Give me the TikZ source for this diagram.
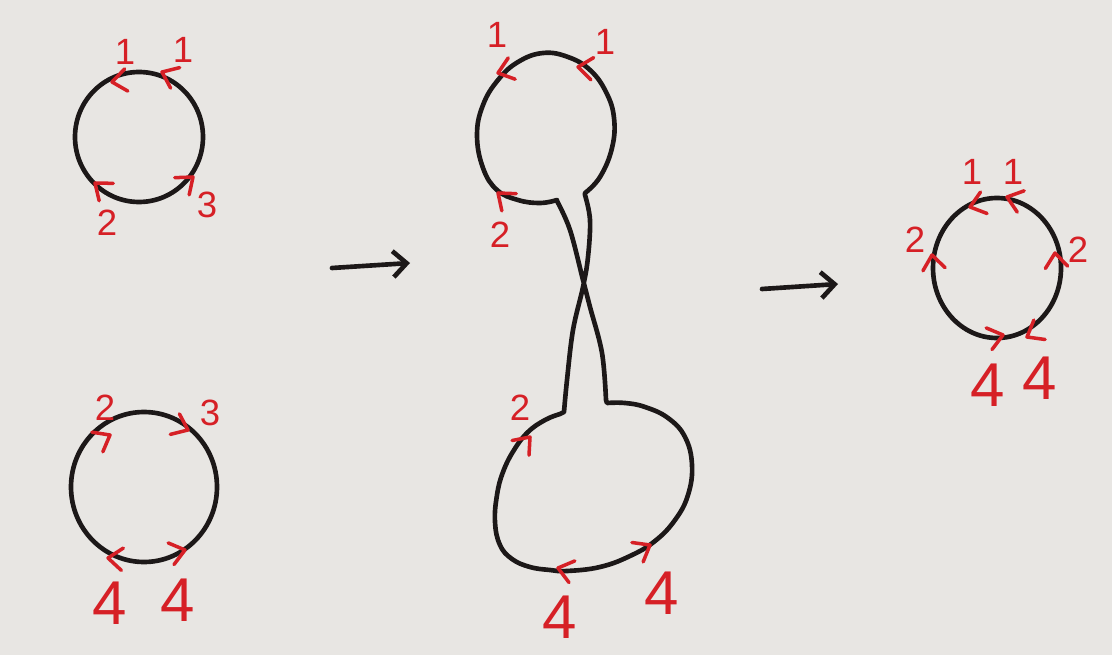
\documentclass[tikz,border=0pt]{standalone}
\usepackage{fontspec}
\setsansfont{Liberation Sans}
\usepackage{tikz}
\usetikzlibrary{arrows.meta, calc}
\definecolor{ink}{RGB}{28,24,24}
\definecolor{penred}{RGB}{214,32,38}
\definecolor{paper}{RGB}{232,230,227}

\tikzset{
  loopline/.style={ink, line width=3.3pt, line join=round, line cap=round},
  tickmark/.style={penred, line width=2.5pt, line cap=round, line join=round},
  lab/.style={penred, font=\sffamily\fontsize{26}{26}\selectfont, inner sep=0pt},
  biglab/.style={penred, font=\sffamily\fontsize{44}{44}\selectfont, inner sep=0pt},
  chev/.pic={\draw[tickmark] (3.6mm,2.8mm) -- (0,0) -- (3.6mm,-2.8mm);}
}

\begin{document}
\begin{tikzpicture}[x=0.25mm, y=0.25mm]
  \fill[paper] (0,0) rectangle (1112,-655);
  \useasboundingbox (0,0) rectangle (1112,-655);

  % two separate loops on the left
  \draw[loopline] (139,-137) ellipse (64 and 65);
  \draw[loopline] (144,-487) ellipse (73 and 75);

  % twisted middle loop
  \draw[loopline] plot[smooth, tension=0.7] coordinates {(557,-200) (540,-203) (518,-200) (497,-190) (483,-168) (477,-135) (483,-105) (498,-80) (518,-62) (543,-53) (568,-57) (590,-70) (606,-92) (614,-118) (612,-148) (600,-177) (585,-193)}
    -- plot[smooth, tension=0.6] coordinates {(585,-195) (590,-220) (588,-257) (583,-287) (573,-330) (567,-380) (564,-412)}
    -- plot[smooth, tension=0.7] coordinates {(560,-414) (545,-420) (528,-432) (514,-450) (503,-472) (497,-495) (495,-522) (500,-545) (512,-559) (530,-567) (550,-570) (567,-571) (600,-567) (630,-556) (655,-541) (675,-520) (688,-495) (692,-465) (685,-437) (668,-418) (645,-407) (625,-403) (607,-403)}
    -- plot[smooth, tension=0.6] coordinates {(606,-400) (602,-353) (590,-307) (583,-280) (570,-230) (557,-201)} -- cycle;

  % result loop on the right
  \draw[loopline] (997,-268) ellipse (64 and 70);

  % arrows
  \coordinate (go1) at (332,-268);
  \coordinate (to1) at (410,-263);
  \coordinate (go2) at (762,-289);
  \coordinate (to2) at (838,-284);
  \draw[loopline, -{Straight Barb[length=3.4mm, width=6.5mm]}] (go1) -- (to1);
  \draw[loopline, -{Straight Barb[length=3.4mm, width=6.5mm]}] (go2) -- (to2);

  % red marks on the strands
  \foreach \x/\y/\a in {112/82/188, 162/72/156, 95/183/141, 193/177/40,
                        110/435/29, 188/430/-24, 108/558/175, 185/550/15,
                        498/73/198, 578/67/173, 498/193/140,
                        530/437/49, 558/568/165, 650/545/30,
                        970/207/197, 1007/197/162, 932/255/98, 1055/253/96, 1003/335/15, 1027/337/210}
    \pic[rotate=\a-180] at (\x,-\y) {chev};

  % labels
  \foreach \n/\x/\y/\t in {tla/125/52/1, tlb/183/50/1, tlc/107/223/2, tld/207/205/3,
                           bla/105/408/2, blb/210/413/3,
                           mta/497/35/1, mtb/605/42/1, mtc/500/235/2, mba/520/408/2,
                           ra/972/172/1, rb/1013/172/1, rc/915/240/2, rd/1078/250/2}
    \node[lab] (\n) at (\x,-\y) {\t};
  \foreach \n/\x/\y in {blc/110/603, bld/178/600, mbb/560/617, mbc/662/593, re/988/385, rf/1040/378}
    \node[biglab] (\n) at (\x,-\y) {4};
\end{tikzpicture}
\end{document}
